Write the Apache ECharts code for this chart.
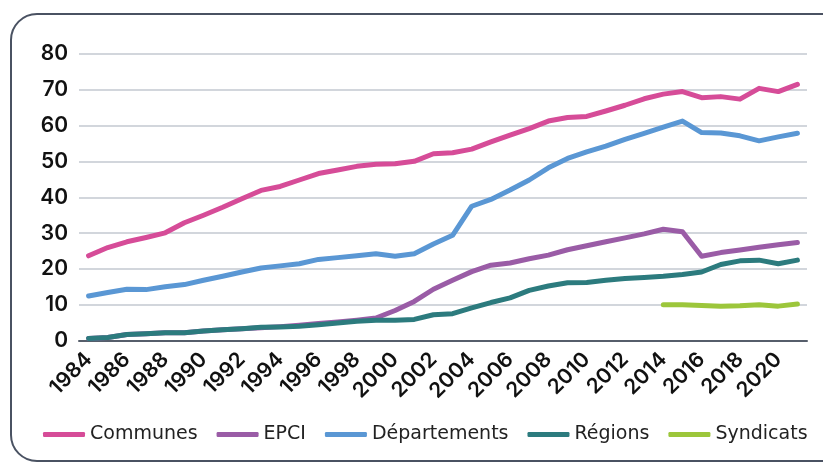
<!DOCTYPE html>
<html>
<head>
<meta charset="utf-8">
<script src="https://cdn.jsdelivr.net/npm/echarts@6/dist/echarts.min.js"></script>
<style>
html,body{margin:0;padding:0;background:#fff;}
#c{width:823px;height:464px;}
</style>
</head>
<body>
<div id="c"></div>
<script>
const years = [];
for (let y = 1984; y <= 2021; y++) years.push(String(y));

const communes = [23.7, 26.0, 27.6, 28.8, 30.1, 32.9, 35.0, 37.2, 39.6, 41.9,
  43.0, 44.8, 46.6, 47.6, 48.6, 49.2, 49.3, 50.0, 52.1, 52.4,
  53.4, 55.4, 57.3, 59.1, 61.2, 62.2, 62.5, 64.0, 65.6, 67.4,
  68.7, 69.4, 67.7, 68.0, 67.3, 70.3, 69.4, 71.4];
const epci = [0.7, 1.0, 1.8, 2.0, 2.3, 2.3, 2.8, 3.1, 3.4, 3.7,
  4.0, 4.4, 4.9, 5.3, 5.8, 6.4, 8.5, 11.0, 14.4, 16.9,
  19.3, 21.1, 21.7, 22.9, 23.9, 25.4, 26.5, 27.6, 28.7, 29.8,
  31.1, 30.4, 23.6, 24.6, 25.3, 26.1, 26.8, 27.4];
const departements = [12.5, 13.5, 14.4, 14.3, 15.1, 15.7, 16.9, 18.0, 19.2, 20.3,
  20.9, 21.5, 22.7, 23.2, 23.7, 24.3, 23.6, 24.3, 27.0, 29.4,
  37.5, 39.4, 42.0, 44.8, 48.2, 50.8, 52.6, 54.2, 56.1, 57.8,
  59.5, 61.2, 58.0, 57.9, 57.1, 55.7, 56.8, 57.8];
const regions = [0.7, 1.0, 1.8, 2.0, 2.3, 2.3, 2.8, 3.1, 3.4, 3.8,
  3.9, 4.1, 4.5, 5.0, 5.5, 5.8, 5.8, 6.0, 7.3, 7.6,
  9.2, 10.7, 12.0, 14.1, 15.3, 16.2, 16.3, 16.9, 17.4, 17.7,
  18.0, 18.5, 19.2, 21.3, 22.3, 22.5, 21.5, 22.5];
const syndicats = [null, null, null, null, null, null, null, null, null, null,
  null, null, null, null, null, null, null, null, null, null,
  null, null, null, null, null, null, null, null, null, null,
  10.1, 10.1, 9.9, 9.7, 9.8, 10.1, 9.7, 10.3];

const seriesNames = ['Communes', 'EPCI', 'Départements', 'Régions', 'Syndicats'];
const seriesData = [communes, epci, departements, regions, syndicats];
const colors = ['#d64c98', '#9a5ca6', '#5a97d4', '#2c7b7e', '#9cc63b'];

const FONT = '"DejaVu Sans", sans-serif';
const AXFONT = 'Inter, "DejaVu Sans", sans-serif';
const chart = echarts.init(document.getElementById('c'), null, {renderer: 'canvas'});
chart.setOption({
  animation: false,
  backgroundColor: '#fff',
  color: colors,
  graphic: [{
    type: 'rect',
    shape: {x: 11, y: 14, width: 840, height: 447, r: 26},
    style: {fill: 'none', stroke: '#4a5262', lineWidth: 2},
    silent: true, z: -1
  }],
  grid: {left: 79, right: 16, top: 53.5, bottom: 123, containLabel: false},
  legend: {
    left: 38, top: 420,
    icon: 'roundRect',
    itemWidth: 42, itemHeight: 5, itemGap: 19,
    textStyle: {fontFamily: FONT, fontSize: 19, color: '#222'},
    data: seriesNames
  },
  xAxis: {
    type: 'category',
    data: years,
    boundaryGap: true,
    axisLine: {lineStyle: {color: '#565e6b', width: 2}},
    axisTick: {show: false},
    axisLabel: {
      interval: 1, rotate: 45, margin: 15,
      fontFamily: AXFONT, fontSize: 21, fontWeight: 600, color: '#111'
    },
    splitLine: {show: false}
  },
  yAxis: {
    type: 'value',
    min: 0, max: 80, interval: 10,
    axisLine: {show: false},
    axisTick: {show: false},
    axisLabel: {margin: 11, fontFamily: AXFONT, fontSize: 21, fontWeight: 600, color: '#111'},
    splitLine: {lineStyle: {color: '#c3c8d1', width: 1.5}}
  },
  series: seriesNames.map((n, i) => ({
    name: n,
    type: 'line',
    data: seriesData[i],
    symbol: 'none',
    connectNulls: false,
    lineStyle: {width: 5, color: colors[i], cap: 'round', join: 'round'},
    itemStyle: {color: colors[i]}
  }))
});
</script>
</body>
</html>
